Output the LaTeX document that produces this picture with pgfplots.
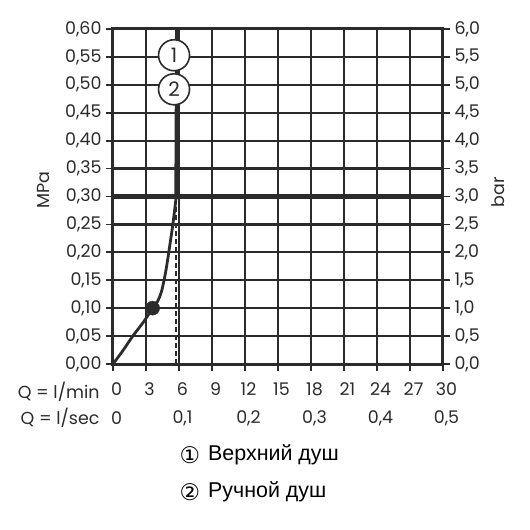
\documentclass[border=0pt]{standalone}
\usepackage{fontspec}
\setmainfont{Poppins}
\newfontfamily\lgfont{Liberation Sans}
\newfontfamily\symfont{DejaVu Sans}
\usepackage{pgfplots}
\pgfplotsset{compat=1.18}
\definecolor{ink}{HTML}{2B2B2B}
\newcommand{\tfont}{\fontsize{17.5}{20}\selectfont}
\begin{document}
\begin{tikzpicture}
\path[use as bounding box] (-113bp,-166bp) rectangle (417bp,364bp);
\begin{axis}[
  at={(0,0)}, anchor=south west,
  scale only axis, width=330bp, height=335bp,
  xmin=0, xmax=30, ymin=0, ymax=0.6,
  clip=false,
  xtick={0,3,6,9,12,15,18,21,24,27,30},
  xticklabels={0,3,6,9,12,15,18,21,24,27,30},
  ytick={0,0.05,0.1,0.15,0.2,0.25,0.3,0.35,0.4,0.45,0.5,0.55,0.6},
  yticklabels={{0,00},{0,05},{0,10},{0,15},{0,20},{0,25},{0,30},{0,35},{0,40},{0,45},{0,50},{0,55},{0,60}},
  xtick pos=bottom, ytick pos=left,
  tick align=outside, major tick length=7bp,
  grid=major, grid style={ink, line width=2.2bp},
  axis line style={ink, line width=3bp},
  tick style={ink, line width=1.8bp},
  ticklabel style={font=\tfont, text=ink},
  xticklabel style={anchor=center, yshift=-18bp, xshift=3.5bp},
  yticklabel style={anchor=east, xshift=-1bp},
  ylabel={MPa},
  ylabel style={at={(axis description cs:-0.212,0.52)}, anchor=center, font=\tfont, text=ink},
]
% pressure limit 0.3 MPa
\addplot[ink, line width=5.5bp] coordinates {(0,0.3) (30,0.3)};
% dashed flow line
\addplot[ink, line width=1.8bp, dash pattern=on 5bp off 3bp] coordinates {(5.75,0) (5.75,0.3)};
% characteristic curve
\addplot[ink, line width=2.8bp, smooth, tension=0.55] coordinates {
 (0,0) (0.9,0.024) (1.8,0.05) (2.8,0.076) (3.6,0.1) (4.05,0.112) (4.38,0.128) (4.62,0.148)
 (4.85,0.172) (5.07,0.2) (5.44,0.25) (5.75,0.3)};
\addplot[ink, line width=3.8bp] coordinates {(5.75,0.3) (5.82,0.6)};
% operating point
\addplot[only marks, mark=*, mark size=7bp, ink] coordinates {(3.6,0.1)};
% labels 1 and 2
\node[circle, draw=ink, fill=white, line width=1.6bp, minimum size=31bp, inner sep=0pt, font=\fontsize{20}{20}\selectfont, text=ink] at (axis cs:5.55,0.553) {1};
\node[circle, draw=ink, fill=white, line width=1.6bp, minimum size=31bp, inner sep=0pt, font=\fontsize{20}{20}\selectfont, text=ink] at (axis cs:5.55,0.492) {2};
% l/sec row
\foreach \xv/\lab in {0/0, 6/{0,1}, 12/{0,2}, 18/{0,3}, 24/{0,4}, 30/{0,5}} {
  \edef\temp{\noexpand\node[font=\noexpand\tfont, text=ink, anchor=center] at ([xshift=3.5bp, yshift=-54bp]axis cs:\xv,0) {\lab};}
  \temp
}
\end{axis}
\begin{axis}[
  at={(0,0)}, anchor=south west,
  scale only axis, width=330bp, height=335bp,
  xmin=0, xmax=30, ymin=0, ymax=6,
  axis x line=none, axis y line*=right,
  ytick={0,0.5,1,1.5,2,2.5,3,3.5,4,4.5,5,5.5,6},
  yticklabels={{0,0},{0,5},{1,0},{1,5},{2,0},{2,5},{3,0},{3,5},{4,0},{4,5},{5,0},{5,5},{6,0}},
  tick align=outside, major tick length=7bp,
  axis line style={ink, line width=2.4bp},
  tick style={ink, line width=1.8bp},
  ticklabel style={font=\tfont, text=ink},
  yticklabel style={anchor=west, xshift=1bp},
  ylabel={bar},
  ylabel style={at={(axis description cs:1.167,0.513)}, anchor=center, font=\tfont, text=ink},
]
\end{axis}
\node[font=\tfont, text=ink, anchor=east] at (-10bp,-28bp) {Q = l/min};
\node[font=\tfont, text=ink, anchor=east] at (-10bp,-54bp) {Q = l/sec};
\node[font=\symfont\fontsize{23}{23}\selectfont, anchor=center] at (77bp,-91bp) {①};
\node[font=\lgfont\fontsize{21.5}{21.5}\selectfont, anchor=west, inner sep=0pt] at (95bp,-91bp) {Верхний душ};
\node[font=\symfont\fontsize{23}{23}\selectfont, anchor=center] at (77bp,-128bp) {②};
\node[font=\lgfont\fontsize{21.5}{21.5}\selectfont, anchor=west, inner sep=0pt] at (95bp,-128bp) {Ручной душ};
\end{tikzpicture}
\end{document}
